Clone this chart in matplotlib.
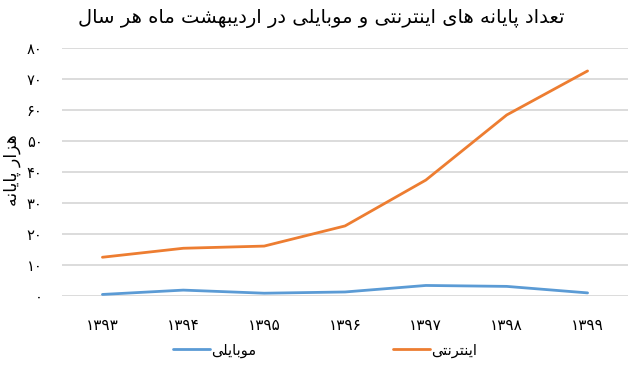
import matplotlib
matplotlib.use("Agg")
import matplotlib.pyplot as plt

years = ["۱۳۹۳", "۱۳۹۴", "۱۳۹۵", "۱۳۹۶", "۱۳۹۷", "۱۳۹۸", "۱۳۹۹"]
internet = [12.5, 15.4, 16.1, 22.6, 37.4, 58.4, 72.6]
mobile = [0.5, 1.9, 0.9, 1.3, 3.4, 3.1, 1.0]
yticks = [0, 10, 20, 30, 40, 50, 60, 70, 80]
title_text = "تعداد پایانه های اینترنتی و موبایلی در اردیبهشت ماه هر سال"
ylabel_text = "هزار پایانه"
label_mobile = "موبایلی"
label_internet = "اینترنتی"

# --- minimal Arabic/Persian shaper (presentation forms) ---
FORMS = {
    'ا': (0xFE8D, 0xFE8E, None, None),
    'آ': (0xFE81, 0xFE82, None, None),
    'ب': (0xFE8F, 0xFE90, 0xFE91, 0xFE92),
    'پ': (0xFB56, 0xFB57, 0xFB58, 0xFB59),
    'ت': (0xFE95, 0xFE96, 0xFE97, 0xFE98),
    'ث': (0xFE99, 0xFE9A, 0xFE9B, 0xFE9C),
    'ج': (0xFE9D, 0xFE9E, 0xFE9F, 0xFEA0),
    'چ': (0xFB7A, 0xFB7B, 0xFB7C, 0xFB7D),
    'ح': (0xFEA1, 0xFEA2, 0xFEA3, 0xFEA4),
    'خ': (0xFEA5, 0xFEA6, 0xFEA7, 0xFEA8),
    'د': (0xFEA9, 0xFEAA, None, None),
    'ذ': (0xFEAB, 0xFEAC, None, None),
    'ر': (0xFEAD, 0xFEAE, None, None),
    'ز': (0xFEAF, 0xFEB0, None, None),
    'ژ': (0xFB8A, 0xFB8B, None, None),
    'س': (0xFEB1, 0xFEB2, 0xFEB3, 0xFEB4),
    'ش': (0xFEB5, 0xFEB6, 0xFEB7, 0xFEB8),
    'ص': (0xFEB9, 0xFEBA, 0xFEBB, 0xFEBC),
    'ض': (0xFEBD, 0xFEBE, 0xFEBF, 0xFEC0),
    'ط': (0xFEC1, 0xFEC2, 0xFEC3, 0xFEC4),
    'ظ': (0xFEC5, 0xFEC6, 0xFEC7, 0xFEC8),
    'ع': (0xFEC9, 0xFECA, 0xFECB, 0xFECC),
    'غ': (0xFECD, 0xFECE, 0xFECF, 0xFED0),
    'ف': (0xFED1, 0xFED2, 0xFED3, 0xFED4),
    'ق': (0xFED5, 0xFED6, 0xFED7, 0xFED8),
    'ک': (0xFB8E, 0xFB8F, 0xFB90, 0xFB91),
    'گ': (0xFB92, 0xFB93, 0xFB94, 0xFB95),
    'ل': (0xFEDD, 0xFEDE, 0xFEDF, 0xFEE0),
    'م': (0xFEE1, 0xFEE2, 0xFEE3, 0xFEE4),
    'ن': (0xFEE5, 0xFEE6, 0xFEE7, 0xFEE8),
    'و': (0xFEED, 0xFEEE, None, None),
    'ه': (0xFEE9, 0xFEEA, 0xFEEB, 0xFEEC),
    'ی': (0xFBFC, 0xFBFD, 0xFBFE, 0xFBFF),
}


def shape(s):
    out = []
    n = len(s)
    for i, ch in enumerate(s):
        if ch not in FORMS:
            out.append(ch)
            continue
        iso, fin, ini, med = FORMS[ch]
        prev = s[i - 1] if i > 0 else None
        nxt = s[i + 1] if i < n - 1 else None
        join_prev = prev in FORMS and FORMS[prev][2] is not None
        join_next = ini is not None and nxt in FORMS
        if join_prev and join_next:
            c = med
        elif join_prev:
            c = fin
        elif join_next:
            c = ini
        else:
            c = iso
        out.append(chr(c))
    return "".join(out)[::-1]


def fa_num(v):
    return str(v).translate(str.maketrans("0123456789", "۰۱۲۳۴۵۶۷۸۹"))


plt.rcParams['font.family'] = ['DejaVu Sans']

fig = plt.figure(figsize=(6.4, 3.8), dpi=100)
ax = fig.add_axes([62 / 640, 1 - 296 / 380, (628 - 62) / 640, (296 - 48) / 380])

x = list(range(len(years)))
l1, = ax.plot(x, mobile, color="#5B9BD5", lw=2.0, solid_capstyle="round")
l2, = ax.plot(x, internet, color="#ED7D31", lw=2.0, solid_capstyle="round")

ax.set_xlim(-0.5, len(years) - 0.5)
ax.set_ylim(0, 80)
ax.set_yticks(yticks)
ax.set_yticklabels([fa_num(v) for v in yticks], fontsize=10.5)
ax.set_xticks(x)
ax.set_xticklabels(years, fontsize=11)
ax.tick_params(length=0)
ax.tick_params(axis='y', pad=14)
ax.tick_params(axis='x', pad=16)
ax.grid(axis='y', color="#d9d9d9", lw=1.3)
ax.set_axisbelow(True)
for sp in ax.spines.values():
    sp.set_visible(False)

fig.text(12 / 640, 1 - 170 / 380, shape(ylabel_text), rotation=90,
         ha='center', va='center', fontsize=12.5)
fig.text(321 / 640, 1 - 18 / 380, shape(title_text), ha='center', va='center',
         fontsize=14)

fig.legend([l1, l2], [shape(label_mobile), shape(label_internet)],
           loc='center', bbox_to_anchor=(325 / 640, 1 - 350 / 380), ncol=2,
           frameon=False, fontsize=10.5, handlelength=2.5, columnspacing=9.4,
           handletextpad=0.1)

fig.savefig("out.png", dpi=100)
